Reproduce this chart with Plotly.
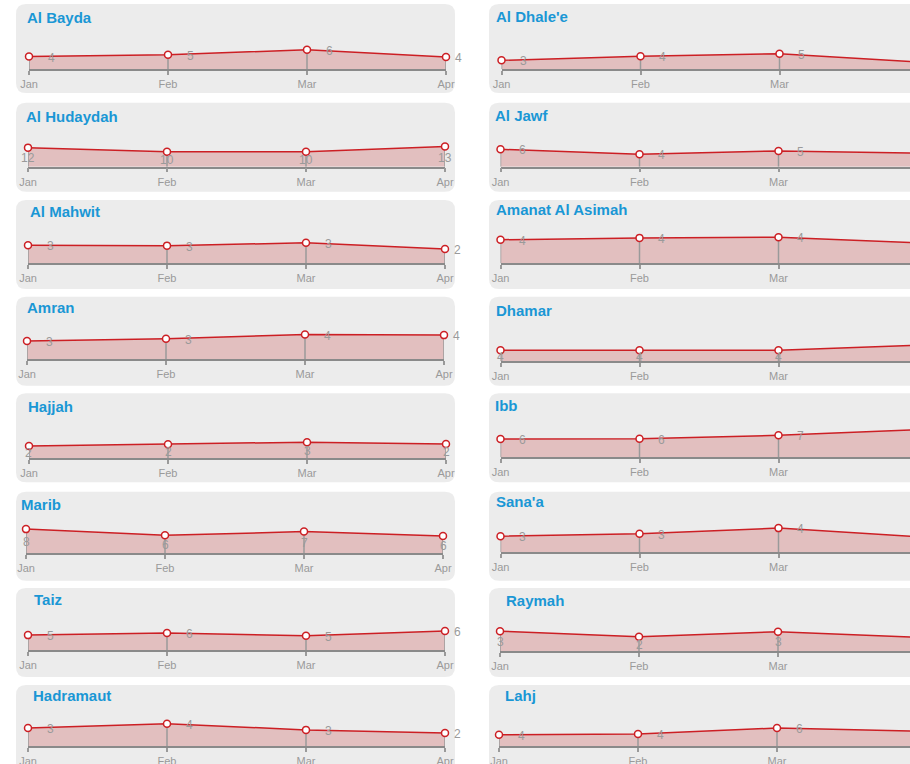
import plotly.graph_objects as go

# ---------------- data ----------------
months = ["Jan", "Feb", "Mar", "Apr"]

regions = [
    "Al Bayda", "Al Dhale'e",
    "Al Hudaydah", "Al Jawf",
    "Al Mahwit", "Amanat Al Asimah",
    "Amran", "Dhamar",
    "Hajjah", "Ibb",
    "Marib", "Sana'a",
    "Taiz", "Raymah",
    "Hadramaut", "Lahj",
]

al_bayda = [4.0, 4.6, 6.2, 3.9]
al_dhalee = [2.8, 4.1, 4.9, 2.3]
al_hudaydah = [12.3, 9.7, 9.7, 13.1]
al_jawf = [5.6, 4.0, 5.1, 4.4]
al_mahwit = [2.9, 2.85, 3.3, 2.3]
amanat_al_asimah = [3.8, 4.1, 4.2, 3.3]
amran = [2.95, 3.3, 4.0, 3.9]
dhamar = [3.6, 3.6, 3.6, 5.2]
hajjah = [2.0, 2.26, 2.6, 2.3]
ibb = [5.9, 6.0, 7.1, 8.9]
marib = [7.8, 5.8, 7.0, 5.6]
sanaa = [2.6, 3.0, 3.9, 2.5]
taiz = [4.8, 5.5, 4.6, 6.1]
raymah = [3.2, 2.3, 3.1, 2.2]
hadramaut = [2.9, 3.6, 2.6, 2.1]
lahj = [3.6, 3.9, 5.8, 4.8]

series = [al_bayda, al_dhalee, al_hudaydah, al_jawf, al_mahwit, amanat_al_asimah,
          amran, dhamar, hajjah, ibb, marib, sanaa, taiz, raymah, hadramaut, lahj]

# per-panel y-axis maximum (scale of each small chart)
y_max = [10, 10, 20, 10, 5, 5, 5, 10, 5, 10, 10, 5, 10, 5, 5, 10]

# label placement: "right" of point or "inside" the area
label_mode = ["right", "right", "inside", "right", "right", "right", "right", "inside",
              "inside", "right", "inside", "right", "right", "inside", "right", "right"]

# ---------------- layout (pixels, page coordinates) ----------------
PAGE_OFF = 0            # body margin removed by post_script
W, H = 910, 764
STEP = 139          # px between months
PLOT_H = 31         # px plot height above baseline
row_base = [69, 166.7, 263.3, 359.3, 458.3, 553.3, 650, 746]
row_top = [4, 102.7, 200, 296.7, 393.3, 491.7, 588, 685]
right_base_shift = [0, 0, 0, 2, -1, -1, 1, 0]
PANEL_H = 89
left_panel = (16, 455)
right_panel = (489, 940)
left_jan = [29, 28, 28, 27, 29, 26, 28, 28]
right_jan = [501.5, 500.5, 500.5, 500.5, 500.5, 500.5, 500, 499]
left_title = [(27.5, 17.3), (26, 116), (30.5, 211.7), (27.5, 307.3),
              (28, 406.7), (21.5, 504), (34, 599), (33, 695)]
right_title = [(496, 16.7), (495.5, 115.7), (496, 210), (496, 310),
               (496, 405), (496, 501), (506, 600), (505, 695)]

FONT = "Liberation Sans, Arial, Helvetica, sans-serif"
GRAY = "#9a9a9a"
RED = "#cc1f24"
FILL = "#e2bfbf"
PANEL = "#ececec"
BLUE = "#1a97d5"


def px(x):
    return (x - PAGE_OFF) / W


def py(y):
    return 1 - (y - PAGE_OFF) / H


def rounded_rect(x0, y0, x1, y1, r=10):
    rx, ry = r / W, r / H
    X0, X1 = px(x0), px(x1)
    Y0, Y1 = py(y0), py(y1)  # Y0 top (bigger), Y1 bottom
    return (f"M {X0+rx},{Y0} L {X1-rx},{Y0} Q {X1},{Y0} {X1},{Y0-ry} "
            f"L {X1},{Y1+ry} Q {X1},{Y1} {X1-rx},{Y1} "
            f"L {X0+rx},{Y1} Q {X0},{Y1} {X0},{Y1+ry} "
            f"L {X0},{Y0-ry} Q {X0},{Y0} {X0+rx},{Y0} Z")


fig = go.Figure()
shapes = []
annotations = []
layout_axes = {}
x_limit = PAGE_OFF + W

for i, (name, vals) in enumerate(zip(regions, series)):
    row, col = divmod(i, 2)
    k = i + 1
    xa = f"x{k}"
    ya = f"y{k}"
    if col == 0:
        jan = left_jan[row]
        base = row_base[row]
        pl = left_panel
        tx, ty = left_title[row]
    else:
        jan = right_jan[row]
        base = row_base[row] + right_base_shift[row]
        pl = right_panel
        tx, ty = right_title[row]
    x_end = min(x_limit, jan + 3 * STEP)
    xr_max = (x_end - jan) / STEP

    shapes.append(dict(type="path", xref="paper", yref="paper",
                       path=rounded_rect(pl[0], row_top[row], pl[1], row_top[row] + PANEL_H),
                       fillcolor=PANEL, line=dict(width=0), layer="below"))

    layout_axes["xaxis" + ("" if k == 1 else str(k))] = dict(
        domain=[px(jan), px(x_end)], anchor=ya, type="category",
        categoryorder="array", categoryarray=months,
        range=[0, xr_max], showgrid=False, zeroline=False, automargin=False,
        showline=True, linecolor="#8a8a8a", linewidth=1.5,
        ticks="outside", ticklen=4, tickwidth=1.5, tickcolor=GRAY,
        tickfont=dict(family=FONT, size=11, color=GRAY), fixedrange=True)
    layout_axes["yaxis" + ("" if k == 1 else str(k))] = dict(
        domain=[max(0, py(base)), py(base - PLOT_H)], anchor=xa, range=[0, y_max[i]],
        visible=False, fixedrange=True, automargin=False)

    # area
    fig.add_trace(go.Scatter(x=months, y=vals, xaxis=xa, yaxis=ya, mode="lines",
                             fill="tozeroy", fillcolor=FILL, line=dict(width=0),
                             hoverinfo="skip", showlegend=False))
    # drop lines
    dx, dy = [], []
    for m, v in zip(months, vals):
        dx += [m, m, None]
        dy += [0, v, None]
    fig.add_trace(go.Scatter(x=dx, y=dy, xaxis=xa, yaxis=ya, mode="lines",
                             line=dict(color=GRAY, width=1.5),
                             hoverinfo="skip", showlegend=False))
    # line with markers
    fig.add_trace(go.Scatter(x=months, y=vals, xaxis=xa, yaxis=ya, mode="lines+markers",
                             line=dict(color=RED, width=1.5),
                             marker=dict(size=7, color="white", line=dict(color=RED, width=1.5)),
                             cliponaxis=False, showlegend=False, name=name))

    # value labels
    for j, (m, v) in enumerate(zip(months, vals)):
        if col == 1 and j == 3:
            continue
        if label_mode[i] == "right":
            ay = v
            xs = 12 if j == 3 else 22
        else:
            ay = v / 2
            xs = 0
        annotations.append(dict(x=m, y=ay, xref=xa, yref=ya, text=f"{round(v)}",
                                showarrow=False, xshift=xs, yshift=-1,
                                font=dict(family=FONT, size=12, color=GRAY)))

    # title
    annotations.append(dict(x=px(tx), y=py(ty), xref="paper", yref="paper",
                            xanchor="left", yanchor="middle", showarrow=False,
                            xshift=-2.5, text=f"<b>{name}</b>",
                            font=dict(family=FONT, size=15, color=BLUE)))

fig.update_layout(width=W, height=H, margin=dict(l=0, r=0, t=0, b=0, autoexpand=False),
                  paper_bgcolor="white", plot_bgcolor="rgba(0,0,0,0)",
                  shapes=shapes, annotations=annotations, showlegend=False,
                  **layout_axes)

fig.write_html(
    "out.html",
    config={"displayModeBar": False},
    post_script="document.body.style.margin='0';document.documentElement.style.overflow='hidden';",
)
